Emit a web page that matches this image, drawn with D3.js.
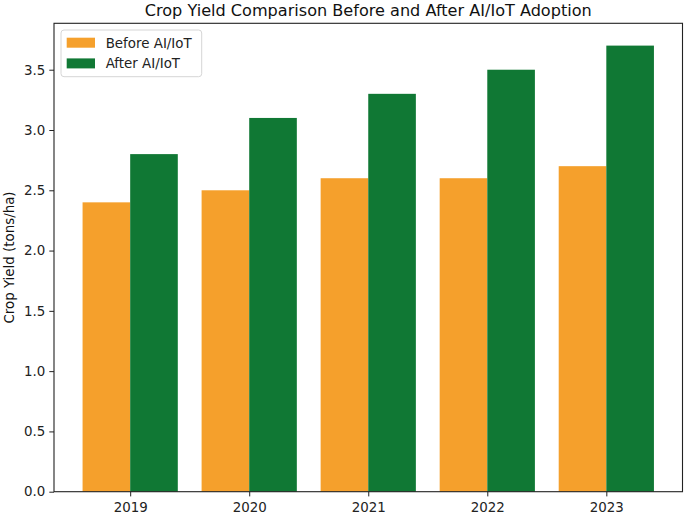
<!DOCTYPE html>
<html>
<head>
<meta charset="utf-8">
<script src="https://cdn.jsdelivr.net/npm/d3@7"></script>
<style>
  html, body { margin: 0; padding: 0; background: #fff; }
  svg { display: block; font-family: "DejaVu Sans", sans-serif; }
</style>
</head>
<body>
<div id="chart"></div>
<script>
var years  = ['2019', '2020', '2021', '2022', '2023'];
var before = [2.4, 2.5, 2.6, 2.6, 2.7];
var after  = [2.8, 3.1, 3.3, 3.5, 3.7];
var yTicks = [0.0, 0.5, 1.0, 1.5, 2.0, 2.5, 3.0, 3.5];
var seriesNames  = ['Before AI/IoT', 'After AI/IoT'];
var seriesColors = ['#f5a02c', '#107834'];

var W = 685, H = 514,
    /* plot area edges */
    pL = 54, pR = 682.5, pT = 23.3, pB = 491.7,
    barW = 0.4;

var svg = d3.select('#chart').append('svg')
  .attr('width', W)
  .attr('height', H);

/* index scale, matplotlib style margins around the bars */
var x = d3.scaleLinear()
  .domain([-0.4 - 0.24, 4.4 + 0.24])
  .range([pL, pR]);

var y = d3.scaleLinear()
  .domain([0, 3.7 * 1.05])
  .range([pB, pT]);

var series = [before, after];

series.forEach(function (vals, s) {
  svg.append('g')
    .selectAll('rect')
    .data(vals)
    .enter()
    .append('rect')
    .attr('x', function (d, i) { return x(i - barW + s * barW); })
    .attr('width', function () { return x(barW) - x(0); })
    .attr('y', function (d) { return y(d); })
    .attr('height', function (d) { return y(0) - y(d); })
    .attr('fill', seriesColors[s]);
});

// axes
var yAxis = d3.axisLeft(y)
  .tickValues(yTicks)
  .tickFormat(d3.format('.1f'))
  .tickSizeOuter(0)
  .tickSize(4.7)
  .tickPadding(4);

var xAxis = d3.axisBottom(x)
  .tickValues(d3.range(years.length))
  .tickFormat(function (i) { return years[i]; })
  .tickSizeOuter(0)
  .tickSize(4.7)
  .tickPadding(6.3);

var gy = svg.append('g')
  .attr('transform', 'translate(' + pL + ',0)')
  .call(yAxis);

var gx = svg.append('g')
  .attr('transform', 'translate(0,' + pB + ')')
  .call(xAxis);

[gx, gy].forEach(function (g) {
  g.select('.domain').remove();
  g.selectAll('text')
    .attr('fill', '#222')
    .style('font-size', '13.4px')
    .style('font-family', '"DejaVu Sans", sans-serif');
  g.selectAll('line').attr('stroke', '#222').attr('stroke-width', 1);
});

// frame
svg.append('rect')
  .attr('x', pL)
  .attr('y', pT)
  .attr('width', pR - pL)
  .attr('height', pB - pT)
  .attr('fill', 'none')
  .attr('stroke', '#222')
  .attr('stroke-width', 1.1);

// title
svg.append('text')
  .attr('x', (pL + pR) / 2)
  .attr('y', 16)
  .attr('text-anchor', 'middle')
  .style('font-size', '16.1px')
  .attr('fill', '#111')
  .text('Crop Yield Comparison Before and After AI/IoT Adoption');

// y label
svg.append('text')
  .attr('transform', 'translate(13.5,' + ((pT + pB) / 2) + ') rotate(-90)')
  .attr('text-anchor', 'middle')
  .style('font-size', '13.4px')
  .attr('fill', '#111')
  .text('Crop Yield (tons/ha)');

// legend
var leg = svg.append('g').attr('transform', 'translate(61,30)');

leg.append('rect')
  .attr('width', 140.7)
  .attr('height', 46.7)
  .attr('rx', 3)
  .attr('fill', 'rgba(255,255,255,0.8)')
  .attr('stroke', '#d6d6d6')
  .attr('stroke-width', 1);

seriesNames.forEach(function (name, s) {
  var row = leg.append('g').attr('transform', 'translate(0,' + (s * 20.7) + ')');
  row.append('rect')
    .attr('x', 5.7)
    .attr('y', 7.7)
    .attr('width', 28.3)
    .attr('height', 10)
    .attr('fill', seriesColors[s]);
  row.append('text')
    .attr('x', 44.7)
    .attr('y', 17.5)
    .style('font-size', '13.4px')
    .attr('fill', '#222')
    .text(name);
});
</script>
</body>
</html>
